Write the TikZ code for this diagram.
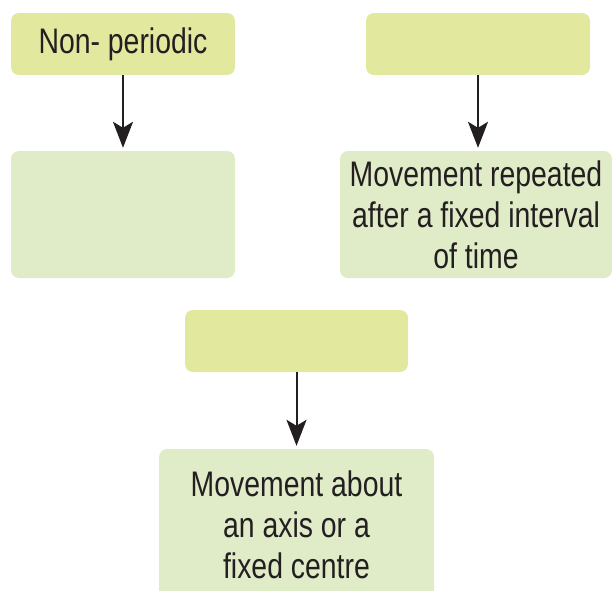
\documentclass[tikz,border=0pt]{standalone}
\usepackage{fontspec}
\setmainfont[FakeStretch=0.8]{Liberation Sans}
\usetikzlibrary{arrows.meta}
\definecolor{topfill}{HTML}{E2E89E}
\definecolor{lowfill}{HTML}{E0EBC8}
\definecolor{ink}{HTML}{231F20}
\tikzset{
  box/.style={rectangle, rounded corners=8pt, inner sep=0pt, align=center, text=ink,
    font=\fontsize{35.5}{41}\selectfont},
  headbox/.style={box, fill=topfill},
  bodybox/.style={box, fill=lowfill},
  link/.style={draw=ink, line width=2pt, -{Stealth[length=26pt, width=20pt, inset=6pt]}, shorten >=3pt}
}
\begin{document}
\begin{tikzpicture}[x=1pt, y=-1pt]
\useasboundingbox (0,0) rectangle (612,590);
\clip (0,0) rectangle (612,590);
\node[headbox, minimum width=224pt, minimum height=62pt] (np) at (123,44) {Non- periodic};
\node[headbox, minimum width=224pt, minimum height=62pt] (per) at (478,44) {};
\node[bodybox, minimum width=224pt, minimum height=127pt] (npd) at (123,214.5) {};
\node[bodybox, minimum width=272pt, minimum height=127pt] (perd) at (476,214.5) {Movement repeated\\after a fixed interval\\of time};
\node[headbox, minimum width=223pt, minimum height=62pt] (rot) at (296.5,341) {};
\node[bodybox, minimum width=275pt, minimum height=152pt] (rotd) at (296.5,525) {Movement about\\an axis or a\\fixed centre};
\draw[link] (np.south) -- (np.south |- npd.north);
\draw[link] (per.south) -- (per.south |- perd.north);
\draw[link] (rot.south) -- (rot.south |- rotd.north);
\end{tikzpicture}
\end{document}
